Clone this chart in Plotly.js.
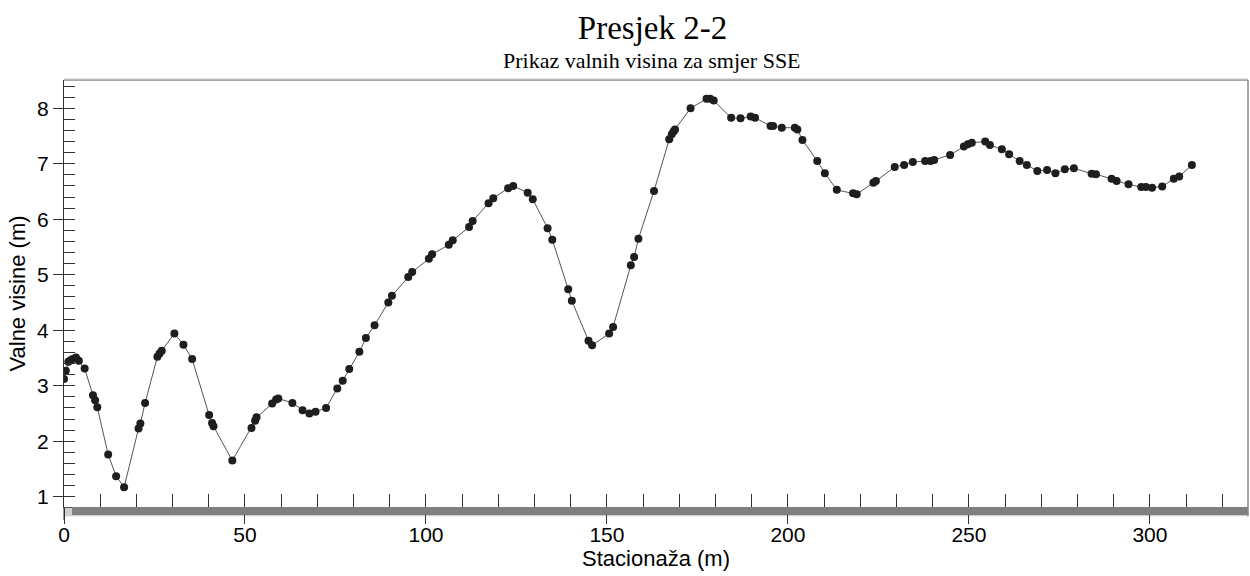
<!DOCTYPE html>
<html>
<head>
<meta charset="utf-8">
<script src="https://cdn.plot.ly/plotly-3.0.1.min.js"></script>
<style>html,body{margin:0;padding:0;background:#fff;}#chart{width:1250px;height:576px;}</style>
</head>
<body>
<div id="chart"></div>
<script>
const chartTitle = "Presjek 2-2";
const chartSubtitle = "Prikaz valnih visina za smjer SSE";
const xTitle = "Stacionaža (m)";
const yTitle = "Valne visine (m)";

const stationing = [0, 0.5, 1.2, 1.8, 2.4, 3.3, 4.1, 5.7, 8.0, 8.6, 9.2, 12.2, 14.4, 16.6, 20.6, 21.1, 22.4, 25.8, 26.4, 27.0,
  30.5, 33.0, 35.4, 40.1, 40.9, 41.3, 46.5, 51.8, 52.8, 53.2, 57.5, 58.6, 59.2, 63.1, 65.9, 67.8, 69.5, 72.4, 75.5, 77.0,
  78.8, 81.6, 83.4, 85.8, 89.6, 90.6, 95.1, 96.2, 100.8, 101.7, 106.3, 107.4, 111.9, 112.9, 117.3, 118.6, 122.7, 124.1, 128.1, 129.5,
  133.6, 134.9, 139.3, 140.3, 144.9, 145.9, 150.6, 151.7, 156.6, 157.5, 158.7, 163.0, 167.2, 167.9, 168.4, 168.8, 173.1, 177.5, 178.5, 179.5,
  184.3, 186.9, 189.7, 190.9, 195.2, 195.9, 198.3, 201.9, 202.6, 204.0, 208.1, 210.2, 213.5, 218.0, 219.0, 223.6, 224.3, 229.5, 232.1, 234.5,
  237.9, 239.4, 240.4, 244.8, 248.6, 249.7, 250.8, 254.5, 255.8, 259.1, 261.1, 264.0, 266.0, 268.9, 271.6, 273.9, 276.5, 279.0, 283.9, 285.1,
  289.4, 290.8, 294.1, 297.6, 298.9, 300.6, 303.4, 306.6, 308.1, 311.6];
const waveHeight = [3.12, 3.27, 3.43, 3.46, 3.48, 3.51, 3.45, 3.31, 2.83, 2.74, 2.61, 1.76, 1.37, 1.17, 2.23, 2.32, 2.69, 3.52, 3.58, 3.63,
  3.94, 3.74, 3.48, 2.47, 2.33, 2.27, 1.65, 2.24, 2.37, 2.43, 2.68, 2.75, 2.77, 2.69, 2.56, 2.50, 2.53, 2.60, 2.95, 3.09,
  3.30, 3.61, 3.86, 4.09, 4.50, 4.62, 4.96, 5.05, 5.29, 5.37, 5.54, 5.62, 5.86, 5.97, 6.29, 6.38, 6.56, 6.60, 6.48, 6.36,
  5.84, 5.63, 4.74, 4.53, 3.81, 3.73, 3.94, 4.06, 5.17, 5.32, 5.65, 6.51, 7.44, 7.53, 7.58, 7.62, 8.00, 8.17, 8.17, 8.14,
  7.83, 7.82, 7.85, 7.83, 7.68, 7.68, 7.65, 7.65, 7.62, 7.43, 7.05, 6.83, 6.53, 6.47, 6.45, 6.66, 6.69, 6.94, 6.98, 7.03,
  7.05, 7.05, 7.07, 7.16, 7.31, 7.35, 7.38, 7.40, 7.34, 7.26, 7.17, 7.05, 6.98, 6.87, 6.89, 6.83, 6.90, 6.92, 6.82, 6.81,
  6.73, 6.69, 6.63, 6.58, 6.58, 6.57, 6.59, 6.73, 6.77, 6.98];

const xRange = [0, 327.1];
const yRange = [0.814, 8.51];
const sans = "Liberation Sans, Arial, sans-serif";
const serif = "Liberation Serif, Times New Roman, serif";

const traces = [
  {
    x: stationing, y: waveHeight, type: 'scatter', mode: 'lines+markers',
    line: {color: '#555555', width: 1},
    marker: {color: '#1e1e1e', size: 8},
    showlegend: false, xaxis: 'x', yaxis: 'y'
  },
  {
    x: [], y: [], type: 'scatter', mode: 'markers', showlegend: false,
    xaxis: 'x2', yaxis: 'y2', hoverinfo: 'skip'
  },
  {
    x: [], y: [], type: 'scatter', mode: 'markers', showlegend: false,
    xaxis: 'x3', yaxis: 'y', hoverinfo: 'skip'
  }
];

const layout = {
  width: 1250, height: 576,
  paper_bgcolor: '#ffffff', plot_bgcolor: '#ffffff',
  margin: {l: 64, r: 2, t: 80, b: 69},
  showlegend: false,
  title: {
    text: chartTitle,
    font: {family: serif, size: 33, color: '#000'},
    x: 0.522, xref: 'container', xanchor: 'center',
    y: 0.953, yref: 'container', yanchor: 'middle'
  },
  annotations: [
    {text: chartSubtitle, xref: 'paper', yref: 'paper', x: 0.497, y: 1.046,
     xanchor: 'center', yanchor: 'middle', showarrow: false,
     font: {family: serif, size: 22, color: '#000'}}
  ],
  xaxis: {
    range: xRange, dtick: 50, tick0: 0,
    ticks: 'outside', ticklen: 9, tickcolor: '#333', tickwidth: 1,
    showgrid: false, zeroline: false,
    showline: true, linecolor: '#555', linewidth: 1,
    tickfont: {family: sans, size: 21, color: '#000'},
    title: {text: xTitle, font: {family: sans, size: 22, color: '#000'}, standoff: 4}
  },
  xaxis2: {
    range: xRange, dtick: 10, tick0: 0, overlaying: 'x', anchor: 'y2', side: 'bottom',
    ticks: 'inside', ticklen: 13, tickcolor: '#333', tickwidth: 1,
    showticklabels: false, showgrid: false, zeroline: false, showline: false
  },
  xaxis3: {
    range: xRange, dtick: 50, tick0: 0, overlaying: 'x', anchor: 'y', side: 'bottom',
    ticks: 'outside', ticklen: 16, tickcolor: '#333', tickwidth: 1,
    showticklabels: false, showgrid: false, zeroline: false, showline: false
  },
  yaxis: {
    range: yRange, dtick: 1, tick0: 0,
    ticks: 'outside', ticklen: 10, tickcolor: '#333', tickwidth: 1,
    showgrid: false, zeroline: false,
    showline: true, linecolor: '#333', linewidth: 1,
    tickfont: {family: sans, size: 21, color: '#000'},
    title: {text: yTitle, font: {family: sans, size: 22, color: '#000'}, standoff: 5}
  },
  yaxis2: {
    range: yRange, dtick: 0.2, tick0: 0, overlaying: 'y', anchor: 'x2', side: 'left',
    ticks: 'inside', ticklen: 11, tickcolor: '#333', tickwidth: 1,
    showticklabels: false, showgrid: false, zeroline: false, showline: false
  },
  shapes: [
    {type: 'rect', xref: 'paper', yref: 'paper', x0: 0.0, x1: 1.0, y0: -0.0215, y1: 0.0, fillcolor: '#d0d0d0', line: {width: 0}, layer: 'below'},
    {type: 'rect', xref: 'paper', yref: 'paper', x0: 0.0068, x1: 1.0, y0: -0.0187, y1: 0.0, fillcolor: '#808080', line: {width: 0}},
    {type: 'line', xref: 'paper', yref: 'paper', x0: 0, x1: 0, y0: 0, y1: -0.031, line: {color: '#333', width: 1}},
    {type: 'line', xref: 'paper', yref: 'paper', x0: 0, x1: 1, y0: 1, y1: 1, line: {color: '#555', width: 1}},
    {type: 'line', xref: 'paper', yref: 'paper', x0: 0, x1: 1, y0: 1.0025, y1: 1.0025, line: {color: '#cccccc', width: 1}},
    {type: 'line', xref: 'paper', yref: 'paper', x0: 1, x1: 1, y0: -0.0215, y1: 1, line: {color: '#888', width: 1.5}}
  ]
};

Plotly.newPlot('chart', traces, layout, {displayModeBar: false, staticPlot: true});
</script>
</body>
</html>
